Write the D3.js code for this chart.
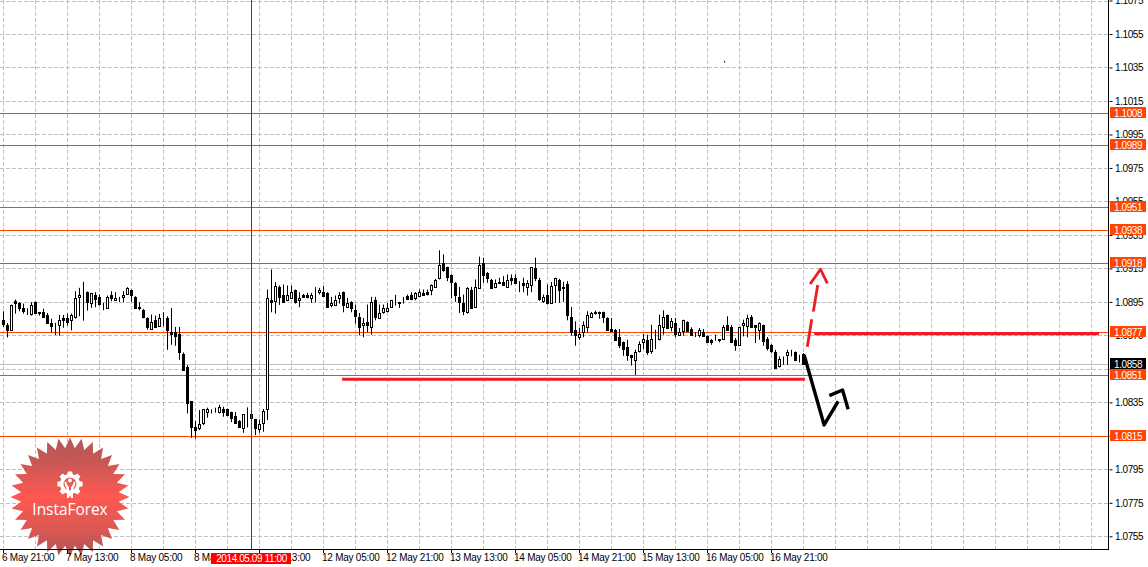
<!DOCTYPE html>
<html><head><meta charset="utf-8">
<script src="https://cdn.jsdelivr.net/npm/d3@7/dist/d3.min.js"></script>
<style>html,body{margin:0;padding:0;background:#fff}svg{display:block}text{font-family:"Liberation Sans",sans-serif}</style>
</head><body><div id="c"></div>
<script>
// H1 quotes in points (price x 100000)
const opens=[108844,108814,108784,108954,108944,108914,108892,108880,108948,108890,108890,108874,108824,108800,108810,108854,108854,108840,108858,108978,109004,109012,108942,108994,108982,108932,108916,108992,108960,108972,108980,109000,109024,108980,108920,108904,108854,108788,108844,108808,108862,108856,108770,108770,108758,108640,108560,108356,108200,108196,108228,108294,108298,108306,108292,108308,108308,108290,108268,108238,108198,108266,108278,108248,108188,108228,108308,108964,108958,109036,108994,108960,108976,109024,108960,
108994,108994,108972,109006,109008,109010,109004,108930,108930,108972,109008,108918,108950,108904,108860,108810,108830,108798,108962,108854,108888,108896,108918,108950,108950,108958,108984,108992,108976,108988,109004,109010,109020,109038,109092,109184,109156,109112,109064,108980,108944,108888,109024,108918,109034,109184,109124,109082,109038,109070,109070,109038,109094,109094,109070,109064,109040,109052,109154,109082,108958,108992,108942,109052,109082,109040,109054,
108860,108784,108738,108768,108798,108858,108892,108892,108892,108854,108790,108782,108740,108710,108680,108634,108604,108658,108708,108724,108658,108724,108726,108798,108872,108798,108824,108752,108778,108830,108788,108758,108752,108770,108744,108724,108724,108728,108728,108812,108802,108724,108690,108810,108808,108862,108812,108784,108812,108730,108694,108652,108568,108620,108630,108642,108650,108622,108638];
const highs=[108894,108824,108934,108964,108948,108940,108912,108948,108952,108890,108910,108884,108850,108824,108872,108872,108880,108880,109014,109034,109070,109012,109004,109008,108994,108944,108988,109014,109008,108980,109014,109038,109024,108984,108948,108908,108858,108874,108868,108878,108888,108864,108914,108800,108800,108648,108572,108356,108238,108304,108308,108318,108308,108318,108336,108324,108312,108294,108292,108244,108280,108320,108284,108252,108248,108310,109024,109144,109068,109048,109054,109048,109048,109024,109008,
108998,109004,109004,109038,109034,109044,109008,108980,108988,109008,109012,108974,108954,108934,108884,108854,108934,108980,108980,108934,108934,108944,108962,108992,108950,108980,108994,109008,109008,109024,109024,109024,109054,109088,109258,109234,109160,109114,109068,109040,108994,109038,109040,109084,109220,109214,109128,109088,109084,109094,109104,109114,109114,109114,109074,109094,109080,109158,109214,109094,108994,109054,109068,109094,109088,109070,109074,
108920,108834,108794,108834,108894,108890,108898,108892,108892,108858,108854,108788,108788,108714,108724,108634,108664,108714,108758,108754,108814,108784,108874,108900,108874,108854,108854,108794,108844,108834,108798,108768,108794,108788,108750,108728,108754,108728,108812,108864,108812,108734,108800,108844,108874,108872,108812,108828,108814,108740,108698,108664,108624,108624,108664,108664,108654,108634,108644];
const lows=[108800,108738,108778,108880,108894,108880,108872,108868,108880,108868,108856,108820,108768,108752,108748,108796,108808,108780,108850,108864,108838,108898,108914,108918,108928,108900,108910,108954,108958,108948,108948,108994,108950,108908,108900,108852,108784,108784,108794,108804,108804,108664,108694,108688,108604,108544,108284,108138,108134,108184,108214,108258,108284,108288,108284,108264,108268,108232,108224,108200,108168,108200,108184,108154,108168,108174,108244,108888,108880,108932,108944,108954,108972,108940,108918,
108974,108972,108944,108948,108994,108980,108916,108918,108928,108940,108888,108914,108888,108820,108750,108738,108768,108754,108840,108850,108880,108888,108914,108928,108914,108940,108964,108960,108960,108980,108988,108988,108990,109034,109084,109130,109074,108970,108950,108884,108870,108880,108910,108914,109030,109064,109064,109028,109032,109062,109050,109038,109050,109058,109008,109008,108988,109008,109074,108956,108944,108934,108940,108944,108944,108950,108840,
108748,108688,108724,108738,108768,108854,108874,108850,108824,108780,108774,108720,108674,108628,108598,108570,108514,108648,108668,108634,108640,108668,108720,108754,108788,108774,108738,108748,108748,108774,108748,108740,108738,108740,108704,108694,108718,108708,108724,108784,108704,108658,108688,108744,108738,108798,108704,108724,108688,108660,108644,108554,108558,108574,108574,108624,108600,108588,108578];
const closes=[108820,108780,108934,108942,108914,108898,108892,108934,108882,108882,108858,108826,108808,108800,108842,108840,108828,108872,108974,108992,109004,108948,109004,108970,108940,108932,108980,108972,108974,108972,108994,109034,108990,108912,108914,108858,108798,108832,108798,108854,108862,108780,108756,108748,108648,108544,108348,108204,108184,108218,108308,108308,108298,108306,108320,108294,108274,108258,108228,108204,108278,108266,108258,108194,108218,108296,108974,108948,109042,108980,108948,108994,109012,108948,108972,
108980,108978,108992,109006,109024,108984,108918,108944,108962,108992,108930,108944,108912,108868,108798,108824,108810,108950,108858,108884,108914,108914,108962,108950,108942,108958,108970,108968,109004,109012,108990,109000,109052,109082,109172,109138,109100,109068,108990,108948,108896,109034,108912,109040,109172,109110,109090,109032,109064,109062,109050,109082,109082,109062,109070,109052,109064,109158,109092,108970,108982,108944,109042,109094,109022,109032,108870,
108768,108750,108758,108812,108872,108884,108884,108884,108858,108784,108778,108724,108694,108668,108634,108618,108650,108698,108728,108648,108728,108724,108812,108860,108794,108834,108758,108770,108840,108778,108752,108758,108782,108748,108708,108712,108724,108720,108802,108784,108708,108694,108800,108824,108854,108802,108800,108824,108718,108676,108658,108558,108610,108620,108650,108642,108604,108622,108578];

const yTicks=[1.0755,1.0775,1.0795,1.0815,1.0835,1.0855,1.0875,1.0895,1.0915,1.0935,1.0955,1.0975,1.0995,1.1015,1.1035,1.1055,1.1075];
const timeLabels=["6 May 21:00","7 May 13:00","8 May 05:00","8 May 21:00","9 May 13:00","12 May 05:00","12 May 21:00","13 May 13:00","14 May 05:00","14 May 21:00","15 May 13:00","16 May 05:00","16 May 21:00"];
const levels=[1.1008,1.0989,1.09514,1.0938,1.0918,1.0877,1.08514,1.0815];
const lastPrice=1.0858;
const crossBar=62, crossLabel="2014.05.09 11:00";
// hand-drawn analysis marks as [bar index, price]
const redSupport=[[84.7,1.08488],[200.4,1.08488]];
const redResist=[[202.7,1.08761],[273.9,1.08761]];
const redArrowA=[[201,1.08682],[202.1,1.08846]];
const redArrowB=[[202.5,1.08892],[203.6,1.09051]];
const redArrowHead=[[201.7,1.09057],[204.3,1.09145],[206,1.09061]];
const blackArrowA=[[200.2,1.08633],[205.2,1.08215],[208.7,1.08356]];
const blackArrowB=[[206.5,1.0839],[209.8,1.08424],[211.2,1.08309]];
const strayDot=[180.2,1.1039];

const W=1148,H=567,axisX=1108,axisY=549;
const x=d3.scaleLinear().domain([0,1]).range([3.33,7.33]);
const y=d3.scaleLinear().domain([1.0755,1.1055]).range([536.3,34]);
const crisp=v=>Math.round(v)+.5;
const bx=i=>Math.floor(x(i))+.5;
const svg=d3.select("#c").append("svg").attr("width",W).attr("height",H).style("background","#fff");

// grid
const gridV=d3.range(0,35).map(k=>k*8);
const grid=svg.append("g").attr("stroke","#c0c0c0").attr("stroke-dasharray","4,2");
grid.selectAll(".gv").data(gridV).join("line").attr("x1",bx).attr("x2",bx).attr("y1",0).attr("y2",axisY);
grid.selectAll(".gh").data(yTicks).join("line").attr("x1",0).attr("x2",axisX).attr("y1",d=>crisp(y(d))).attr("y2",d=>crisp(y(d)));

// logo under the marks
const logo=svg.append("g").attr("transform","translate(70,497)");
const grad=svg.append("defs").append("linearGradient").attr("id","lg").attr("x1",0).attr("x2",0).attr("y1",0).attr("y2",1);
[[0,"#b04e4e"],[.2,"#c54f4c"],[.5,"#ff4f48"],[.78,"#d84f4a"],[1,"#a84c4c"]].forEach(s=>grad.append("stop").attr("offset",s[0]).attr("stop-color",s[1]));
const teeth=32;
const starPts=d3.range(teeth*2).map(k=>[k*Math.PI/teeth,k%2?49:59.5]);
logo.append("path").attr("d",d3.lineRadial().curve(d3.curveLinearClosed)(starPts)).attr("fill","url(#lg)").attr("fill-opacity",.95);
const gear=logo.append("g").attr("transform","translate(0,-13)").attr("fill","#fff");
gear.append("path").attr("fill-rule","evenodd").attr("d",(()=>{
  const n=8,pts=[];
  for(let k=0;k<n;k++){const a=k*2*Math.PI/n;[[-.27,10],[-.17,12.8],[.17,12.8],[.27,10]].forEach(p=>pts.push([a+p[0],p[1]]));}
  const outer=d3.lineRadial().curve(d3.curveLinearClosed)(pts);
  const inner=d3.arc()({innerRadius:0,outerRadius:6.5,startAngle:0,endAngle:2*Math.PI});
  return outer+inner;
})());
gear.append("circle").attr("r",2).attr("cy",-3.5);
gear.append("path").attr("fill","#fff").attr("d","M-5.5,-2 C-5.5,2 -3.2,3.5 -3,6 L-3,14 L-1,14 L-1,3.5 C-1.5,2 -3.5,1 -3.7,-2.5Z M5.5,-2 C5.5,2 3.2,3.5 3,6 L3,14 L1,14 L1,3.5 C1.5,2 3.5,1 3.7,-2.5Z");
logo.append("text").attr("x",0).attr("y",18).attr("text-anchor","middle").attr("fill","#fff").style("font-family","'Open Sans'").style("font-size","15.4px").text("InstaForex");

// levels & last-price line
svg.append("g").attr("stroke","#ff4500").selectAll("line").data(levels).join("line").attr("x1",0).attr("x2",axisX).attr("y1",d=>crisp(y(d))).attr("y2",d=>crisp(y(d)));
svg.append("line").attr("x1",0).attr("x2",axisX).attr("y1",crisp(y(lastPrice))).attr("y2",crisp(y(lastPrice))).attr("stroke","#c0c0c0");

// candles
const bars=opens.map((o,i)=>({i,o:o/1e5,h:highs[i]/1e5,l:lows[i]/1e5,c:closes[i]/1e5}));
const cg=svg.append("g");
cg.selectAll(".w").data(bars).join("line").attr("x1",d=>bx(d.i)).attr("x2",d=>bx(d.i)).attr("y1",d=>y(d.h)).attr("y2",d=>y(d.l)).attr("stroke","#000");
cg.selectAll(".b").data(bars).join("rect")
 .attr("x",d=>bx(d.i)-1).attr("width",2)
 .attr("y",d=>Math.round(y(Math.max(d.o,d.c)))+.5)
 .attr("height",d=>Math.max(0,Math.round(y(Math.min(d.o,d.c)))-Math.round(y(Math.max(d.o,d.c)))))
 .attr("fill",d=>d.c>d.o?"#fff":"#000").attr("stroke","#000");

// crosshair
svg.append("line").attr("x1",bx(crossBar)).attr("x2",bx(crossBar)).attr("y1",0).attr("y2",axisY).attr("stroke","#e00000");

// hand-drawn
const ln=d3.line().x(d=>x(d[0])).y(d=>y(d[1]));
const draw=(pts,col,w)=>svg.append("path").attr("d",ln(pts)).attr("fill","none").attr("stroke",col).attr("stroke-width",w).attr("stroke-linejoin","round");
[redSupport,redResist].forEach(p=>draw(p,"#ed1c24",3.2));
[redArrowA,redArrowB,redArrowHead].forEach(p=>draw(p,"#ed1c24",2.8));
[blackArrowA,blackArrowB].forEach(p=>draw(p,"#000",3.4));
svg.append("rect").attr("x",x(strayDot[0])).attr("y",y(strayDot[1])).attr("width",1).attr("height",2).attr("fill","#800060");

// axes
const yAxis=d3.axisRight(y).tickValues(yTicks).tickSize(3).tickPadding(3).tickFormat(d3.format(".4f"));
const ya=svg.append("g").attr("transform",`translate(${axisX+1.5},0)`).call(yAxis);
ya.select(".domain").remove();
ya.selectAll("line").attr("stroke","#000");
ya.selectAll("text").attr("fill","#000").style("font-size","10px").style("letter-spacing","-.4px").attr("x",5.5);
svg.append("line").attr("x1",axisX+.5).attr("x2",axisX+.5).attr("y1",0).attr("y2",axisY+1).attr("stroke","#000");
svg.append("line").attr("x1",0).attr("x2",axisX+1).attr("y1",axisY+.5).attr("y2",axisY+.5).attr("stroke","#000");

const tg=svg.append("g");
const tickBars=timeLabels.map((t,k)=>({t,i:k*16}));
tg.selectAll("line").data(tickBars).join("line").attr("x1",d=>bx(d.i)).attr("x2",d=>bx(d.i)).attr("y1",axisY+1).attr("y2",axisY+4).attr("stroke","#000");
tg.selectAll("text").data(tickBars).join("text").attr("x",d=>x(d.i)-1.3).attr("y",561).attr("fill","#000").style("font-size","10px").style("letter-spacing","-.25px").text(d=>d.t);

// axis badges
const badge=(v,fill,col)=>{
  const yy=Math.round(y(v));
  svg.append("rect").attr("x",1110).attr("width",36).attr("y",yy-6).attr("height",11).attr("fill",fill);
  svg.append("text").attr("x",1114).attr("y",yy+3.5).attr("fill",col).style("font-size","10px").style("letter-spacing","-.4px").text(v.toFixed(4));
};
levels.forEach(v=>badge(v,"#ff4500","#fff"));
badge(lastPrice,"#000","#fff");
const cx=bx(crossBar);
svg.append("rect").attr("x",cx-40.5).attr("y",553).attr("width",80).attr("height",11).attr("fill","#f00");
svg.append("text").attr("x",cx).attr("y",561.5).attr("text-anchor","middle").attr("fill","#fff").style("font-size","10px").style("letter-spacing","-.4px").text(crossLabel);
</script></body></html>
